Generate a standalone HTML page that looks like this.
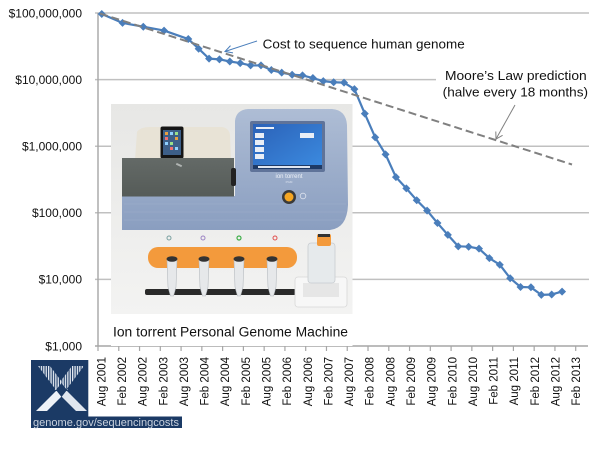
<!DOCTYPE html>
<html><head><meta charset="utf-8"><style>
html,body{margin:0;padding:0;background:#fff;}
svg{display:block;}
</style></head><body>
<svg width="600" height="450" viewBox="0 0 600 450" xmlns="http://www.w3.org/2000/svg" font-family="'Liberation Sans', Arial, sans-serif">
<defs>
  <linearGradient id="body" x1="0" y1="0" x2="0" y2="1">
    <stop offset="0" stop-color="#aebdd5"/>
    <stop offset="1" stop-color="#8a9ec0"/>
  </linearGradient>
  <linearGradient id="scr" x1="0" y1="0" x2="1" y2="1">
    <stop offset="0" stop-color="#2b62b8"/>
    <stop offset="1" stop-color="#3c8be0"/>
  </linearGradient>
  <linearGradient id="pbg" x1="0" y1="0" x2="0" y2="1">
    <stop offset="0" stop-color="#e7e7e5"/>
    <stop offset="1" stop-color="#f3f3f2"/>
  </linearGradient>
  <linearGradient id="dark" x1="0" y1="0" x2="0" y2="1">
    <stop offset="0" stop-color="#646a67"/>
    <stop offset="1" stop-color="#555b58"/>
  </linearGradient>
  <pattern id="stripes" width="2.4" height="4" patternUnits="userSpaceOnUse">
    <rect x="0" y="0" width="1.3" height="4" fill="#e6ecf3"/>
  </pattern>
</defs>
<rect width="600" height="450" fill="#fff"/>

<!-- gridlines -->
<g stroke="#c0c0c0" stroke-width="1.5">
  <line x1="95" y1="13" x2="589" y2="13"/>
  <line x1="95" y1="79.6" x2="589" y2="79.6"/>
  <line x1="95" y1="146.2" x2="589" y2="146.2"/>
  <line x1="95" y1="212.8" x2="589" y2="212.8"/>
  <line x1="95" y1="279.4" x2="589" y2="279.4"/>
</g>
<!-- axes -->
<line x1="98" y1="13" x2="98" y2="346" stroke="#a6a6a6" stroke-width="1.4"/>
<line x1="95" y1="346" x2="588" y2="346" stroke="#a6a6a6" stroke-width="1.6"/>
<g stroke="#a6a6a6" stroke-width="1.2">
  <line x1="98" y1="346" x2="98" y2="351"/><line x1="118.77" y1="346" x2="118.77" y2="351"/>
  <line x1="139.54" y1="346" x2="139.54" y2="351"/><line x1="160.31" y1="346" x2="160.31" y2="351"/>
  <line x1="181.08" y1="346" x2="181.08" y2="351"/><line x1="201.85" y1="346" x2="201.85" y2="351"/>
  <line x1="222.62" y1="346" x2="222.62" y2="351"/><line x1="243.39" y1="346" x2="243.39" y2="351"/>
  <line x1="264.16" y1="346" x2="264.16" y2="351"/><line x1="284.93" y1="346" x2="284.93" y2="351"/>
  <line x1="305.7" y1="346" x2="305.7" y2="351"/><line x1="326.47" y1="346" x2="326.47" y2="351"/>
  <line x1="347.24" y1="346" x2="347.24" y2="351"/><line x1="368.01" y1="346" x2="368.01" y2="351"/>
  <line x1="388.78" y1="346" x2="388.78" y2="351"/><line x1="409.55" y1="346" x2="409.55" y2="351"/>
  <line x1="430.32" y1="346" x2="430.32" y2="351"/><line x1="451.09" y1="346" x2="451.09" y2="351"/>
  <line x1="471.86" y1="346" x2="471.86" y2="351"/><line x1="492.63" y1="346" x2="492.63" y2="351"/>
  <line x1="513.4" y1="346" x2="513.4" y2="351"/><line x1="534.17" y1="346" x2="534.17" y2="351"/>
  <line x1="554.94" y1="346" x2="554.94" y2="351"/><line x1="575.71" y1="346" x2="575.71" y2="351"/>
</g>

<!-- y labels -->
<g font-size="12" fill="#111" text-anchor="end">
  <text x="82" y="17.3">$100,000,000</text>
  <text x="82" y="83.9">$10,000,000</text>
  <text x="82" y="150.5">$1,000,000</text>
  <text x="82" y="217.1">$100,000</text>
  <text x="82" y="283.7">$10,000</text>
  <text x="82" y="350.3">$1,000</text>
</g>

<!-- x labels -->
<g font-size="11.5" fill="#111" text-anchor="end">
  <text transform="translate(105.4,357) rotate(-90)">Aug 2001</text>
  <text transform="translate(126.04,357) rotate(-90)">Feb 2002</text>
  <text transform="translate(146.68,357) rotate(-90)">Aug 2002</text>
  <text transform="translate(167.32,357) rotate(-90)">Feb 2003</text>
  <text transform="translate(187.96,357) rotate(-90)">Aug 2003</text>
  <text transform="translate(208.6,357) rotate(-90)">Feb 2004</text>
  <text transform="translate(229.24,357) rotate(-90)">Aug 2004</text>
  <text transform="translate(249.88,357) rotate(-90)">Feb 2005</text>
  <text transform="translate(270.52,357) rotate(-90)">Aug 2005</text>
  <text transform="translate(291.16,357) rotate(-90)">Feb 2006</text>
  <text transform="translate(311.8,357) rotate(-90)">Aug 2006</text>
  <text transform="translate(332.44,357) rotate(-90)">Feb 2007</text>
  <text transform="translate(353.08,357) rotate(-90)">Aug 2007</text>
  <text transform="translate(373.72,357) rotate(-90)">Feb 2008</text>
  <text transform="translate(394.36,357) rotate(-90)">Aug 2008</text>
  <text transform="translate(415,357) rotate(-90)">Feb 2009</text>
  <text transform="translate(435.64,357) rotate(-90)">Aug 2009</text>
  <text transform="translate(456.28,357) rotate(-90)">Feb 2010</text>
  <text transform="translate(476.92,357) rotate(-90)">Aug 2010</text>
  <text transform="translate(497.56,357) rotate(-90)">Feb 2011</text>
  <text transform="translate(518.2,357) rotate(-90)">Aug 2011</text>
  <text transform="translate(538.84,357) rotate(-90)">Feb 2012</text>
  <text transform="translate(559.48,357) rotate(-90)">Aug 2012</text>
  <text transform="translate(580.12,357) rotate(-90)">Feb 2013</text>
</g>

<!-- Moore's text box -->
<rect x="436" y="63" width="164" height="38" fill="#fff"/>
<g font-size="13" fill="#111">
  <text x="445" y="80" textLength="141.7" lengthAdjust="spacingAndGlyphs">Moore’s Law prediction</text>
  <text x="442.7" y="96.5" textLength="145.3" lengthAdjust="spacingAndGlyphs">(halve every 18 months)</text>
  <text x="262.7" y="48.3" textLength="202" lengthAdjust="spacingAndGlyphs">Cost to sequence human genome</text>
</g>

<!-- data series -->
<polyline fill="none" stroke="#4a7ebb" stroke-width="2.2" stroke-linejoin="round" points="101.76,14.01 122.53,22.87 143.29,26.72 164.06,30.6 188.29,39.05 198.67,48.71 209.05,58.62 219.44,59.35 229.82,61.49 240.2,63.07 250.58,65.43 260.97,65.4 271.35,70.01 281.73,72.68 292.12,74.72 302.5,75.41 312.88,78.01 323.27,81.12 333.65,82.25 344.03,82.64 354.41,89.08 364.8,113.64 375.18,137.34 385.56,154.36 395.95,177.16 406.33,188.36 416.71,200.19 427.1,210.6 437.48,223.05 447.86,234.88 458.24,246.33 468.63,246.69 479.01,248.64 489.39,258.14 499.78,264.72 510.16,278.19 520.54,287.02 530.93,287.31 541.31,294.89 551.69,294.48 562.07,291.57"/>
<g fill="#4a7ebb">
<path d="M101.76,10.01l4,4l-4,4l-4,-4z"/><path d="M122.53,18.87l4,4l-4,4l-4,-4z"/><path d="M143.29,22.72l4,4l-4,4l-4,-4z"/><path d="M164.06,26.6l4,4l-4,4l-4,-4z"/><path d="M188.29,35.05l4,4l-4,4l-4,-4z"/><path d="M198.67,44.71l4,4l-4,4l-4,-4z"/><path d="M209.05,54.62l4,4l-4,4l-4,-4z"/><path d="M219.44,55.35l4,4l-4,4l-4,-4z"/><path d="M229.82,57.49l4,4l-4,4l-4,-4z"/><path d="M240.2,59.07l4,4l-4,4l-4,-4z"/><path d="M250.58,61.43l4,4l-4,4l-4,-4z"/><path d="M260.97,61.4l4,4l-4,4l-4,-4z"/><path d="M271.35,66.01l4,4l-4,4l-4,-4z"/><path d="M281.73,68.68l4,4l-4,4l-4,-4z"/><path d="M292.12,70.72l4,4l-4,4l-4,-4z"/><path d="M302.5,71.41l4,4l-4,4l-4,-4z"/><path d="M312.88,74.01l4,4l-4,4l-4,-4z"/><path d="M323.27,77.12l4,4l-4,4l-4,-4z"/><path d="M333.65,78.25l4,4l-4,4l-4,-4z"/><path d="M344.03,78.64l4,4l-4,4l-4,-4z"/><path d="M354.41,85.08l4,4l-4,4l-4,-4z"/><path d="M364.8,109.64l4,4l-4,4l-4,-4z"/><path d="M375.18,133.34l4,4l-4,4l-4,-4z"/><path d="M385.56,150.36l4,4l-4,4l-4,-4z"/><path d="M395.95,173.16l4,4l-4,4l-4,-4z"/><path d="M406.33,184.36l4,4l-4,4l-4,-4z"/><path d="M416.71,196.19l4,4l-4,4l-4,-4z"/><path d="M427.1,206.6l4,4l-4,4l-4,-4z"/><path d="M437.48,219.05l4,4l-4,4l-4,-4z"/><path d="M447.86,230.88l4,4l-4,4l-4,-4z"/><path d="M458.24,242.33l4,4l-4,4l-4,-4z"/><path d="M468.63,242.69l4,4l-4,4l-4,-4z"/><path d="M479.01,244.64l4,4l-4,4l-4,-4z"/><path d="M489.39,254.14l4,4l-4,4l-4,-4z"/><path d="M499.78,260.72l4,4l-4,4l-4,-4z"/><path d="M510.16,274.19l4,4l-4,4l-4,-4z"/><path d="M520.54,283.02l4,4l-4,4l-4,-4z"/><path d="M530.93,283.31l4,4l-4,4l-4,-4z"/><path d="M541.31,290.89l4,4l-4,4l-4,-4z"/><path d="M551.69,290.48l4,4l-4,4l-4,-4z"/><path d="M562.07,287.57l4,4l-4,4l-4,-4z"/>
</g>

<!-- Moore's law dashed -->
<line x1="100" y1="13.5" x2="572" y2="164.5" stroke="#808080" stroke-width="2" stroke-dasharray="8 4"/>

<!-- arrows -->
<g stroke="#4a7ebb" stroke-width="1" fill="none">
  <line x1="257" y1="41" x2="225" y2="51.5"/>
  <polyline points="230.5,45.6 225,51.5 233,52.9"/>
</g>
<g stroke="#808080" stroke-width="1" fill="none">
  <line x1="515" y1="105" x2="496" y2="139"/>
  <polyline points="495.8,131.5 496,139 502.6,135.3"/>
</g>

<!-- photo box -->
<rect x="111" y="104" width="241.5" height="242" fill="#fff"/>
<rect x="111" y="104" width="241.5" height="210" fill="url(#pbg)"/>
<!-- white paper behind phone -->
<path d="M135,160 L137,132 Q140,127 150,127 L222,127 Q229,128 230,135 L231,160 Z" fill="#e8e3d6"/>
<!-- phone -->
<rect x="160.5" y="126.5" width="23" height="32" rx="2" fill="#151515"/>
<rect x="163" y="130" width="18" height="25" fill="#3d5f88"/>
<g fill="#e8a040"><rect x="165" y="132" width="3" height="3"/><rect x="175" y="137" width="3" height="3"/></g>
<g fill="#8fd0ff"><rect x="170" y="132" width="3" height="3"/><rect x="165" y="142" width="3" height="3"/><rect x="175" y="147" width="3" height="3"/></g>
<g fill="#9be08a"><rect x="175" y="132" width="3" height="3"/><rect x="170" y="142" width="3" height="3"/></g>
<g fill="#f07070"><rect x="165" y="137" width="3" height="3"/><rect x="170" y="147" width="3" height="3"/></g>
<!-- blue body -->
<path d="M122,196 L235,196 L235,121 Q236,110 248,109 L332,109 Q346,110 347,125 L348,205 Q347,228 330,230 L122,230 Z" fill="url(#body)"/>
<g stroke="#a3b3cd" stroke-width="0.6" opacity="0.7">
  <line x1="124" y1="204" x2="346" y2="204"/><line x1="124" y1="212" x2="346" y2="212"/><line x1="124" y1="220" x2="343" y2="220"/>
</g>
<!-- dark box -->
<rect x="122" y="158" width="112" height="38.5" fill="url(#dark)"/>
<rect x="231" y="168" width="5" height="18" rx="2" fill="#222"/>
<rect x="176" y="164" width="6" height="2" fill="#b0b4b2" transform="rotate(25 179 165)"/>
<!-- screen -->
<rect x="250" y="121" width="75" height="51" rx="2" fill="#5f7399"/>
<rect x="253" y="124" width="69" height="45" fill="url(#scr)"/>
<g fill="#e9eef6"><rect x="255" y="133" width="9" height="5"/><rect x="255" y="140" width="9" height="5"/><rect x="255" y="147" width="9" height="5"/><rect x="255" y="154" width="9" height="5"/><rect x="300" y="133" width="14" height="5"/><rect x="256" y="127" width="18" height="2"/></g>
<rect x="253" y="165" width="69" height="4" fill="#1e3a66"/>
<g fill="#dfe6f1"><rect x="258" y="166" width="52" height="2"/></g>
<text x="289" y="178" font-size="6" fill="#eef2f8" text-anchor="middle">ion torrent</text>
<text x="289" y="183" font-size="3" fill="#dbe2ee" text-anchor="middle">PGM</text>
<!-- button -->
<circle cx="289" cy="197" r="7" fill="#3a3a3a"/>
<circle cx="289" cy="197" r="4.5" fill="#f5a623"/>
<circle cx="303" cy="196" r="2.8" fill="none" stroke="#dde3ee" stroke-width="0.8"/>
<!-- dots -->
<circle cx="169" cy="238" r="2" fill="none" stroke="#7aa0a0" stroke-width="1"/>
<circle cx="203" cy="238" r="2" fill="none" stroke="#9c84c4" stroke-width="1"/>
<circle cx="239" cy="238" r="2" fill="none" stroke="#3fae4a" stroke-width="1.2"/>
<circle cx="275" cy="238" r="2" fill="none" stroke="#e05050" stroke-width="1"/>
<!-- orange tray -->
<rect x="148" y="247" width="149" height="21" rx="10" fill="#f39a3c"/>
<!-- base -->
<rect x="145" y="289" width="151" height="6" rx="2" fill="#2a2a2a"/>
<!-- tubes -->
<g fill="#e6e8ea" stroke="#b5babf" stroke-width="0.6">
  <path d="M167,259 L177,259 L176,287 L173.5,296 L170.5,296 L168,287 Z"/>
  <path d="M199,259 L209,259 L208,287 L205.5,296 L202.5,296 L200,287 Z"/>
  <path d="M234,259 L244,259 L243,287 L240.5,296 L237.5,296 L235,287 Z"/>
  <path d="M267,259 L277,259 L276,287 L273.5,296 L270.5,296 L268,287 Z"/>
</g>
<g fill="#333"><ellipse cx="172" cy="259" rx="5.5" ry="2.8"/><ellipse cx="204" cy="259" rx="5.5" ry="2.8"/><ellipse cx="239" cy="259" rx="5.5" ry="2.8"/><ellipse cx="272" cy="259" rx="5.5" ry="2.8"/></g>
<!-- right base and bottle -->
<rect x="295" y="277" width="52" height="30" rx="3" fill="#f7f7f7" stroke="#d8d8d8" stroke-width="0.8"/>
<rect x="303" y="283" width="36" height="14" fill="#e6e6e6"/>
<rect x="308" y="243" width="27" height="40" rx="3" fill="#e6eaec" stroke="#c8ccd0" stroke-width="0.8"/>
<rect x="317" y="234" width="14" height="12" rx="2" fill="#f39a3c"/>
<rect x="318" y="234" width="12" height="3" fill="#333"/>

<!-- caption -->
<text x="113" y="336.7" font-size="13.5" fill="#111" textLength="235" lengthAdjust="spacingAndGlyphs">Ion torrent Personal Genome Machine</text>

<!-- logo -->
<rect x="31" y="360" width="57.3" height="57" fill="#1b3a65"/>
<rect x="31" y="416.5" width="151" height="11.5" fill="#1b3a65"/>
<polygon points="38,366 50,366 68,390 56,390" fill="url(#stripes)"/>
<polygon points="72,366 84,366 66,390 54,390" fill="url(#stripes)"/>
<polygon points="56,391 67,391 47,411 36,411" fill="#eef2f7"/>
<polygon points="56,391 67,391 87,411 76,411" fill="#dfe6ef"/>
<polygon points="61.5,383 67,390 61.5,397 56,390" fill="#1b3a65"/>
<text x="33" y="426" font-size="11" fill="#c9d2de" textLength="146" lengthAdjust="spacingAndGlyphs">genome.gov/sequencingcosts</text>
</svg>
</body></html>
